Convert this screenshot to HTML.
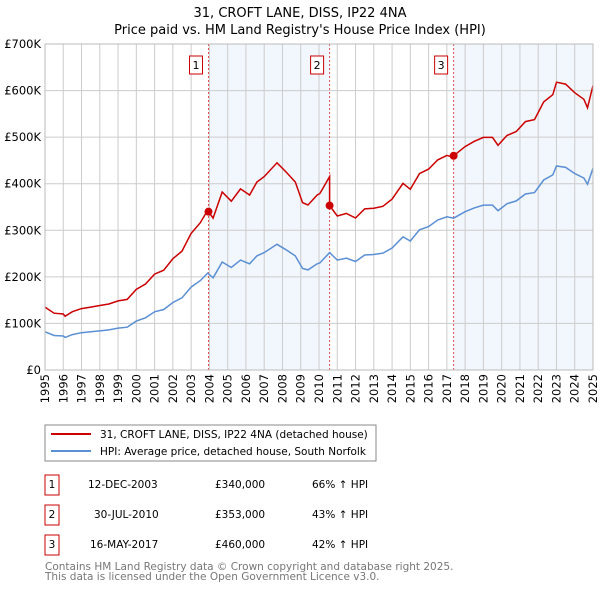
<!DOCTYPE html>
<html><head><meta charset="utf-8"><style>
body{margin:0;background:#fff;}
svg{display:block;font-family:"DejaVu Sans","Liberation Sans",sans-serif;}
</style></head><body>
<svg id="chart" width="600" height="590" viewBox="0 0 600 590">
<text x="300" y="17" text-anchor="middle" font-size="13" fill="#000">31, CROFT LANE, DISS, IP22 4NA</text>
<text x="300" y="34" text-anchor="middle" font-size="13" fill="#000">Price paid vs. HM Land Registry's House Price Index (HPI)</text>
<g id="plot"></g>
<g>
<rect x="45" y="425" width="331" height="36" fill="#fff" stroke="#888"/>
<line x1="51" y1="434" x2="91" y2="434" stroke="#cc0000" stroke-width="2"/>
<text x="100" y="438" font-size="10.5">31, CROFT LANE, DISS, IP22 4NA (detached house)</text>
<line x1="51" y1="451" x2="91" y2="451" stroke="#5b8fd4" stroke-width="2"/>
<text x="100" y="455" font-size="10.5">HPI: Average price, detached house, South Norfolk</text>
</g>
<g font-size="10.5">
<rect x="45" y="475" width="14" height="20" fill="#fff" stroke="#c00"/><text x="52" y="488" text-anchor="middle">1</text>
<text x="88" y="488">12-DEC-2003</text><text x="215" y="488">£340,000</text><text x="312" y="488">66% ↑ HPI</text>
<rect x="45" y="505" width="14" height="20" fill="#fff" stroke="#c00"/><text x="52" y="518" text-anchor="middle">2</text>
<text x="94" y="518">30-JUL-2010</text><text x="215" y="518">£353,000</text><text x="312" y="518">43% ↑ HPI</text>
<rect x="45" y="535" width="14" height="20" fill="#fff" stroke="#c00"/><text x="52" y="548" text-anchor="middle">3</text>
<text x="90" y="548">16-MAY-2017</text><text x="215" y="548">£460,000</text><text x="312" y="548">42% ↑ HPI</text>
</g>
<text x="45" y="570" font-size="10.5" fill="#777">Contains HM Land Registry data © Crown copyright and database right 2025.</text>
<text x="45" y="580" font-size="10.5" fill="#777">This data is licensed under the Open Government Licence v3.0.</text>
</svg>
<script>
const hpiYears=[1995,1995.5,1996,1996.1,1996.5,1997,1997.5,1998,1998.5,1999,1999.5,2000,2000.5,2001,2001.5,2002,2002.5,2003,2003.5,2003.9,2004.2,2004.7,2005.2,2005.7,2006.2,2006.6,2007,2007.7,2008.2,2008.7,2009.1,2009.4,2009.9,2010.05,2010.58,2011,2011.5,2012,2012.5,2013,2013.5,2014,2014.6,2015,2015.5,2016,2016.5,2017,2017.37,2018,2018.5,2019,2019.5,2019.8,2020.3,2020.8,2021.3,2021.8,2022.3,2022.8,2023,2023.5,2024,2024.5,2024.7,2025];
const hpiValues=[82,74,73,70,76,80,82,84,86,90,92,105,112,125,130,145,155,178,192,208,198,232,220,236,228,245,252,270,258,245,218,215,228,230,252,236,240,233,247,248,251,262,286,277,301,308,322,329,326,340,348,354,354,342,357,363,378,381,408,419,438,435,422,412,399,433];
const saleYears=[2003.95,2010.58,2017.37];
const salePrices=[340,353,460];
const saleLabels=["1","2","3"];
const yTicks=[0,100,200,300,400,500,600,700];
const yTickLabels=["£0","£100K","£200K","£300K","£400K","£500K","£600K","£700K"];
const xTicks=[1995,1996,1997,1998,1999,2000,2001,2002,2003,2004,2005,2006,2007,2008,2009,2010,2011,2012,2013,2014,2015,2016,2017,2018,2019,2020,2021,2022,2023,2024,2025];

const X0=45,X1=593,Y0=370,Y1=44;
const xs=y=>X0+(y-1995)/30*(X1-X0);
const ys=v=>Y0-v/700*(Y0-Y1);
const NS="http://www.w3.org/2000/svg";
const g=document.getElementById('plot');
function mk(t,a){const e=document.createElementNS(NS,t);for(const k in a)e.setAttribute(k,a[k]);g.appendChild(e);return e;}
function hpiAt(t){for(let i=1;i<hpiYears.length;i++){if(t<=hpiYears[i]){const a=hpiYears[i-1],b=hpiYears[i];const f=(t-a)/(b-a);return hpiValues[i-1]+f*(hpiValues[i]-hpiValues[i-1]);}}return hpiValues[hpiValues.length-1];}

// shading
let s1=mk('rect',{x:xs(saleYears[0]),y:Y1,width:xs(saleYears[1])-xs(saleYears[0]),height:Y0-Y1,fill:'#eef3fc',opacity:0.75});


let s2=mk('rect',{x:xs(saleYears[2]),y:Y1,width:X1-xs(saleYears[2]),height:Y0-Y1,fill:'#eef3fc',opacity:0.75});



// grid
yTicks.forEach((v,i)=>{
 const l=mk('line',{x1:X0,x2:X1,y1:ys(v),y2:ys(v),stroke:'#ccc'});
 
 
 const t=mk('text',{x:X0-4,y:ys(v)+4,'text-anchor':'end','font-size':'11.5'});
 t.textContent=yTickLabels[i];
 
 
});
xTicks.forEach(yr=>{
 const l=mk('line',{x1:xs(yr),x2:xs(yr),y1:Y1,y2:Y0,stroke:'#ccc'});
 
 
 const t=mk('text',{x:0,y:0,'text-anchor':'end','font-size':'11.5',transform:`translate(${xs(yr)+4},${Y0+4}) rotate(-90)`});
 t.textContent=yr;
 
 
});

// sale vlines and labels
saleYears.forEach((sy,i)=>{
 const l=mk('line',{x1:xs(sy),x2:xs(sy),y1:Y1,y2:Y0,stroke:'#e05050','stroke-dasharray':'2,2'});
 
 
 const r=mk('rect',{x:xs(sy)-19,y:56,width:13,height:18,fill:'#fff',stroke:'#c00'});
 
 
 const t=mk('text',{x:xs(sy)-12.5,y:69,'text-anchor':'middle','font-size':'11'});
 t.textContent=saleLabels[i];
 
 
});

// HPI line
const hp=hpiYears.map((y,i)=>xs(y).toFixed(1)+','+ys(hpiValues[i]).toFixed(1)).join(' ');
const hl=mk('polyline',{points:hp,fill:'none',stroke:'#5b8fd4','stroke-width':1.5});



// property line: HPI scaled from most recent sale
function factorAt(t){let k=0;for(let i=0;i<saleYears.length;i++)if(t>=saleYears[i])k=i;return salePrices[k]/hpiAt(saleYears[k]);}
const pts=[];
hpiYears.forEach((y,i)=>{
 saleYears.forEach((sy,k)=>{if(i>0&&sy>hpiYears[i-1]&&sy<=y){const f0=k>0?salePrices[k-1]/hpiAt(saleYears[k-1]):salePrices[0]/hpiAt(saleYears[0]);pts.push([sy,hpiAt(sy)*f0]);pts.push([sy,salePrices[k]]);}});
 pts.push([y,hpiValues[i]*factorAt(y)]);
});
const pl=mk('polyline',{points:pts.map(p=>xs(p[0]).toFixed(1)+','+ys(p[1]).toFixed(1)).join(' '),fill:'none',stroke:'#cc0000','stroke-width':1.5});


saleYears.forEach((sy,i)=>{
 const c=mk('circle',{cx:xs(sy),cy:ys(salePrices[i]),r:4,fill:'#cc0000'});
 
 
});
const ax=mk('rect',{x:X0,y:Y1,width:X1-X0,height:Y0-Y1,fill:'none',stroke:'#bbb'});


</script>
</body></html>
